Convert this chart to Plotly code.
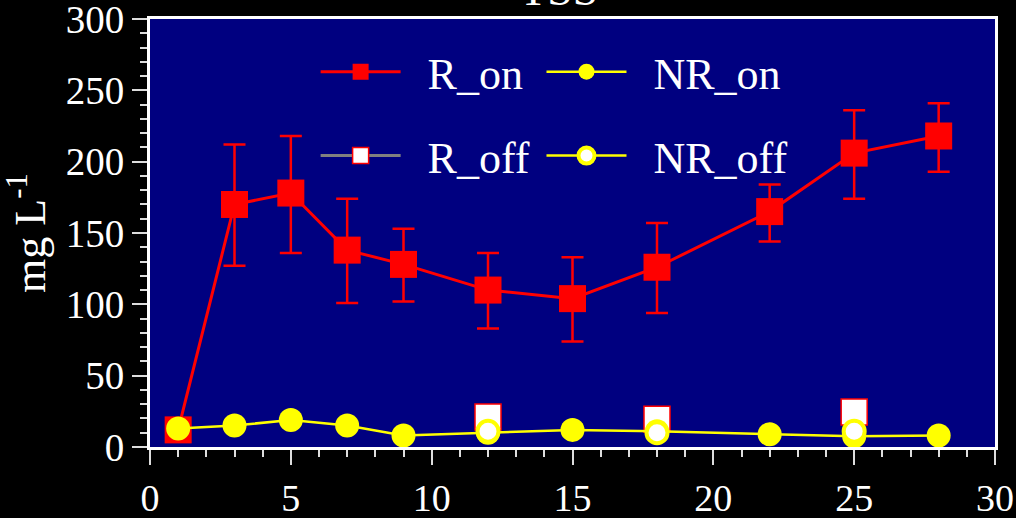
import plotly.graph_objects as go

days = [1, 3, 5, 7, 9, 12, 15, 18, 22, 25, 28]
r_on = [12, 170, 178, 138, 128, 110, 104, 126, 165, 206, 218]
r_on_err_plus = [0, 42, 40, 36, 25, 26, 29, 31, 19, 30, 23]
r_on_err_minus = [0, 43, 42, 37, 26, 27, 30, 32, 21, 32, 25]
nr_on = [13, 15, 19, 15, 8, 10, 12, 11, 9, 7.5, 8]
r_off = [None, None, None, None, None, 21, None, 19.5, None, 24.5, None]
nr_off = [None, None, None, None, None, 11, None, 10, None, 11, None]

FONT = "Liberation Serif"
RED = "#ff0000"
YEL = "#ffff00"
PAD = "\u00a0\u00a0"

fig = go.Figure()
fig.add_trace(go.Scatter(
    x=days, y=r_on, name=PAD + "R_on", mode="lines+markers",
    line=dict(color=RED, width=3),
    marker=dict(symbol="square", size=27, color=RED),
    error_y=dict(type="data", symmetric=False, array=r_on_err_plus,
                 arrayminus=r_on_err_minus, color=RED, thickness=2.5, width=11),
    legend="legend"))
fig.add_trace(go.Scatter(
    x=days, y=r_off, name=PAD + "R_off", mode="lines+markers", connectgaps=False,
    line=dict(color="#808080", width=3),
    marker=dict(symbol="square", size=26, color="white", line=dict(color=RED, width=1.5)),
    legend="legend3"))
fig.add_trace(go.Scatter(
    x=days, y=nr_on, name=PAD + "NR_on", mode="lines+markers",
    line=dict(color=YEL, width=2.5),
    marker=dict(symbol="circle", size=24, color=YEL),
    legend="legend2"))
fig.add_trace(go.Scatter(
    x=days, y=nr_off, name=PAD + "NR_off", mode="lines+markers", connectgaps=False,
    line=dict(color=YEL, width=2.5),
    marker=dict(symbol="circle", size=21, color="white", line=dict(color=YEL, width=4)),
    legend="legend4"))

leg_common = dict(orientation="v", xanchor="left", yanchor="middle",
                  bgcolor="rgba(0,0,0,0)", borderwidth=0,
                  font=dict(family=FONT, size=44, color="white"),
                  itemwidth=80)

axis_common = dict(showgrid=False, zeroline=False, showline=True, mirror=True,
                   linecolor="white", linewidth=3, ticks="outside",
                   tickcolor="#dddddd", tickwidth=2, ticklen=15,
                   automargin=False, ticklabeloverflow="allow")

COL1, COL2 = 0.196, 0.4633
ROW1, ROW2 = 0.876, 0.68

fig.update_layout(
    width=1016, height=518,
    paper_bgcolor="black", plot_bgcolor="#000080",
    margin=dict(l=150, r=21, t=19, b=71),
    font=dict(family=FONT, color="white"),
    title=dict(text="TSS", x=0.55, xanchor="center", y=0.99, yanchor="bottom",
               yref="container", font=dict(family=FONT, size=46, color="white")),
    showlegend=True,
    legend=dict(x=COL1, y=ROW1, **leg_common),
    legend2=dict(x=COL2, y=ROW1, **leg_common),
    legend3=dict(x=COL1, y=ROW2, **leg_common),
    legend4=dict(x=COL2, y=ROW2, **leg_common),
    xaxis=dict(range=[0, 30], dtick=5, tick0=0,
               minor=dict(dtick=1, ticks="outside", ticklen=7, tickcolor="#dddddd", tickwidth=2),
               tickfont=dict(family=FONT, size=38, color="white"),
               **axis_common),
    yaxis=dict(range=[0, 300], dtick=50, tick0=0,
               minor=dict(dtick=10, ticks="outside", ticklen=7, tickcolor="#dddddd", tickwidth=2),
               tickfont=dict(family=FONT, size=39, color="white"),
               title=dict(text="mg L<sup>-1</sup>", font=dict(family=FONT, size=44, color="white"),
                          standoff=12),
               **axis_common),
)

fig.write_html("out.html")
